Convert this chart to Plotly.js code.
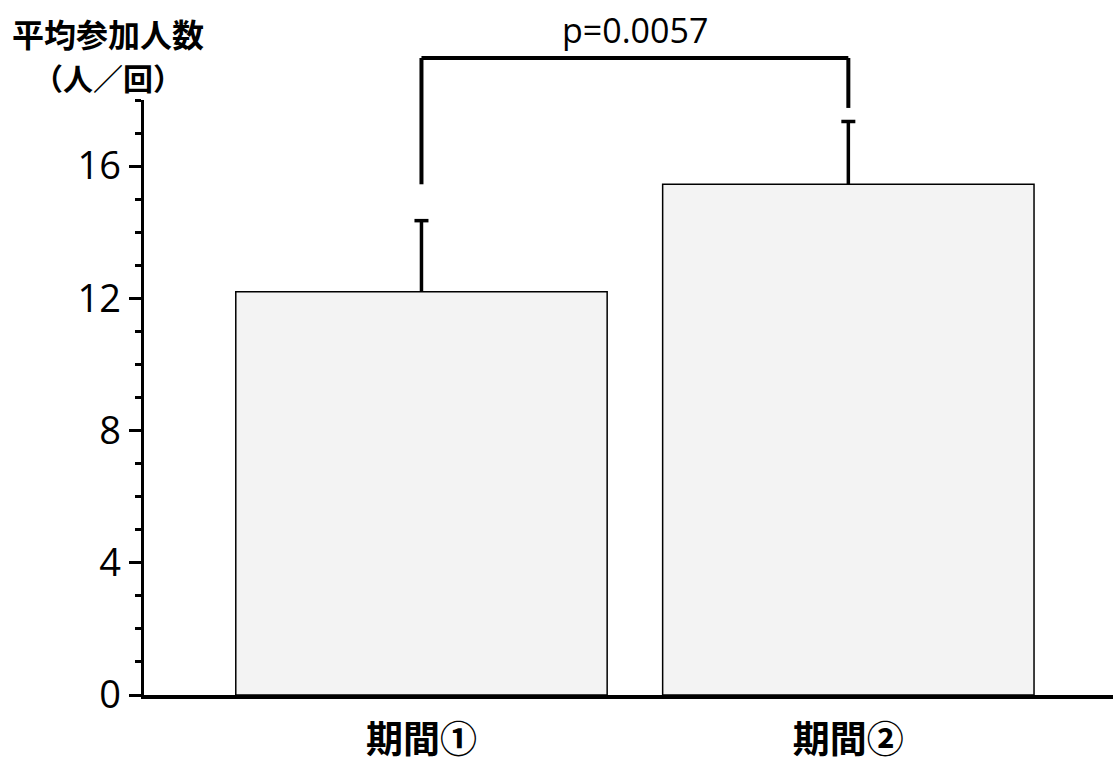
<!DOCTYPE html>
<html>
<head>
<meta charset="utf-8">
<script src="https://cdn.plot.ly/plotly-3.0.1.min.js"></script>
<style>html,body{margin:0;padding:0;background:#fff;}#chart{width:1113px;height:767px;}</style>
</head>
<body>
<div id="chart"></div>
<script>
// Data
const categories = ['期間①', '期間②'];
const meanValues = [12.2, 15.45];
const errorPlus = [2.15, 1.9];
const yTickVals = [0, 4, 8, 12, 16];
const yTickText = ['0', '4', '8', '12', '16'];
// significance bracket (category index, value)
const bracketIdx = [0, 0, 1, 1];
const bracketY = [15.45, 19.27, 19.27, 17.76];
const pValueText = 'p=0.0057';
const yTitleLine1 = '平均参加人数';
const yTitleLine2 = '（人／回）';

const xRange = [-0.65, 1.62];
const yRange = [0, 18];
const toPaperX = i => (i - xRange[0]) / (xRange[1] - xRange[0]);
const toPaperY = v => (v - yRange[0]) / (yRange[1] - yRange[0]);

const bars = {
  type: 'bar',
  x: categories,
  y: meanValues,
  width: 0.87,
  marker: {color: '#f3f3f3', line: {color: '#000', width: 1.5}},
  hoverinfo: 'none'
};

const shapes = [];
// error bars (upper only, cap at top)
categories.forEach((c, i) => {
  const top = meanValues[i] + errorPlus[i];
  shapes.push({type: 'line', xref: 'x', yref: 'y', x0: c, x1: c, y0: meanValues[i], y1: top,
               line: {color: '#000', width: 3.5}});
  shapes.push({type: 'line', xref: 'x', yref: 'y', xsizemode: 'pixel', xanchor: c, x0: -7, x1: 7,
               y0: top, y1: top, line: {color: '#000', width: 3.5}});
});
// bracket
for (let k = 0; k < bracketIdx.length - 1; k++) {
  shapes.push({type: 'line', xref: 'paper', yref: 'paper',
               x0: toPaperX(bracketIdx[k]), x1: toPaperX(bracketIdx[k + 1]),
               y0: toPaperY(bracketY[k]), y1: toPaperY(bracketY[k + 1]),
               line: {color: '#000', width: 4}});
}

const layout = {
  width: 1113, height: 767,
  margin: {l: 144, r: 0, t: 100, b: 72},
  paper_bgcolor: '#fff', plot_bgcolor: '#fff',
  showlegend: false,
  font: {family: 'Noto Sans CJK JP, Open Sans, sans-serif', color: '#000'},
  xaxis: {
    type: 'category', range: xRange,
    showline: true, linecolor: '#000', linewidth: 3.5,
    ticks: '', showgrid: false, zeroline: false,
    tickfont: {size: 37, family: 'Noto Sans CJK JP', weight: 'bold'},
    ticklabelstandoff: 10
  },
  yaxis: {
    range: yRange, showline: true, linecolor: '#000', linewidth: 3.5,
    showgrid: false, zeroline: false,
    tickvals: yTickVals, ticktext: yTickText,
    ticks: 'outside', ticklen: 12, tickwidth: 3, tickcolor: '#000',
    tickfont: {size: 38, family: 'Open Sans'},
    minor: {dtick: 1, ticks: 'outside', ticklen: 6, tickwidth: 3, tickcolor: '#000', showgrid: false}
  },
  shapes: shapes,
  annotations: [
    {xref: 'paper', yref: 'paper', x: (toPaperX(0) + toPaperX(1)) / 2, y: toPaperY(bracketY[1]),
     text: pValueText, showarrow: false,
     yanchor: 'bottom', yshift: 3, font: {size: 34, family: 'Open Sans'}},
    {xref: 'paper', yref: 'paper', x: -144/969, xshift: 10, y: 1, yshift: 100 - 33,
     xanchor: 'left', yanchor: 'middle', text: '<b>' + yTitleLine1 + '</b>', showarrow: false,
     font: {size: 32, family: 'Noto Sans CJK JP'}},
    {xref: 'paper', yref: 'paper', x: -144/969, xshift: 108, y: 1, yshift: 100 - 77,
     xanchor: 'center', yanchor: 'middle', text: '<b>' + yTitleLine2 + '</b>', showarrow: false,
     font: {size: 30, family: 'Noto Sans CJK JP'}}
  ]
};
Plotly.newPlot('chart', [bars], layout, {displayModeBar: false, staticPlot: true});
</script>
</body>
</html>
